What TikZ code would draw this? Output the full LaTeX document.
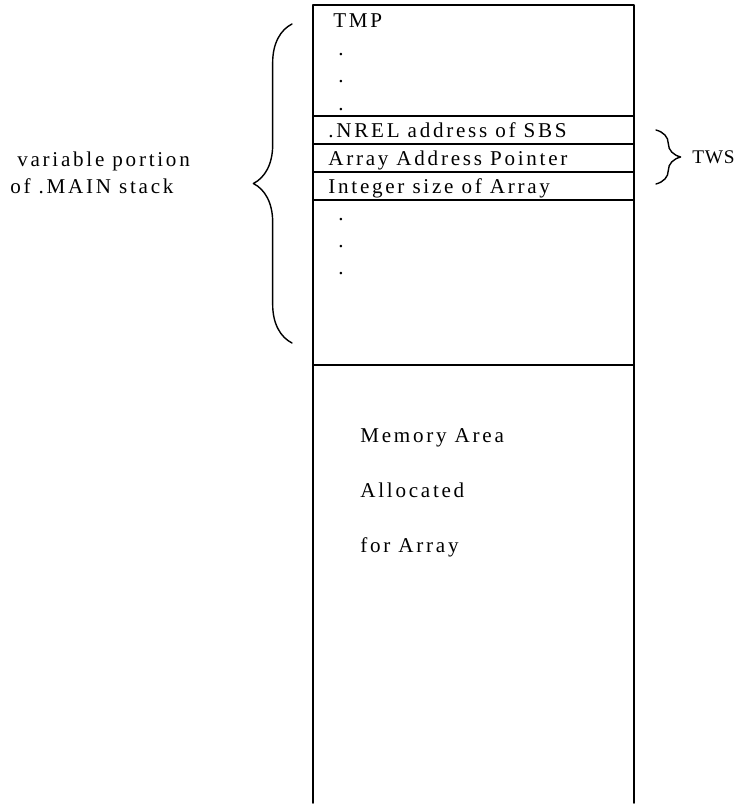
\documentclass[tikz,border=0pt]{standalone}
\usepackage{fontspec}
\setmainfont{Liberation Serif}[LetterSpace=13]
\usetikzlibrary{decorations.pathreplacing}

\begin{document}
\begin{tikzpicture}[x=0.02cm,y=-0.02cm,line cap=round,line join=round]
  \tikzset{
    wall/.style={line width=1pt},
    txt/.style={inner sep=0pt,anchor=base west,font=\fontsize{12}{14}\selectfont},
    dotmark/.style={inner sep=0pt,anchor=base,font=\fontsize{12}{14}\selectfont},
    bigbrace/.style={thick,decorate,decoration={brace,amplitude=22}},
    smallbrace/.style={thick,decorate,decoration={brace,amplitude=14}}
  }
  \useasboundingbox (0,0) rectangle (747,805);

  % the stack column, open at the bottom
  \draw[wall] (313,803) -- (313,5) -- (634,5) -- (634,803);
  \foreach \y in {116,144,172,200,365}
    \draw[wall] (313,\y) -- (634,\y);

  % fixed part on top
  \node[txt] (tmp) at (333,27) {TMP};
  \foreach \y [count=\i] in {55,82,110}
    \node[dotmark] (topdot\i) at (341,\y) {.};

  % the three words of the TWS
  \node[txt] (nrel) at (328,137) {.NREL address of SBS};
  \node[txt] (aptr) at (328,165) {Array Address Pointer};
  \node[txt] (isize) at (328,193) {Integer size of Array};
  \foreach \y [count=\i] in {220,247,274}
    \node[dotmark] (lowdot\i) at (341,\y) {.};

  % array storage
  \node[txt] (mem1) at (360,442) {Memory Area};
  \node[txt] (mem2) at (360,497) {Allocated};
  \node[txt] (mem3) at (360,552) {for Array};

  % braces and their labels
  \draw[bigbrace] (292,343) -- (292,24);
  \node[txt] (var1) at (17,166) {variable portion};
  \node[txt] (var2) at (10,193) {of .MAIN stack};
  \draw[smallbrace] (656,130) -- (656,184);
  \node[txt,font=\fontsize{11}{13}\selectfont\addfontfeatures{LetterSpace=4}] (tws) at (692,163) {TWS};
\end{tikzpicture}
\end{document}
